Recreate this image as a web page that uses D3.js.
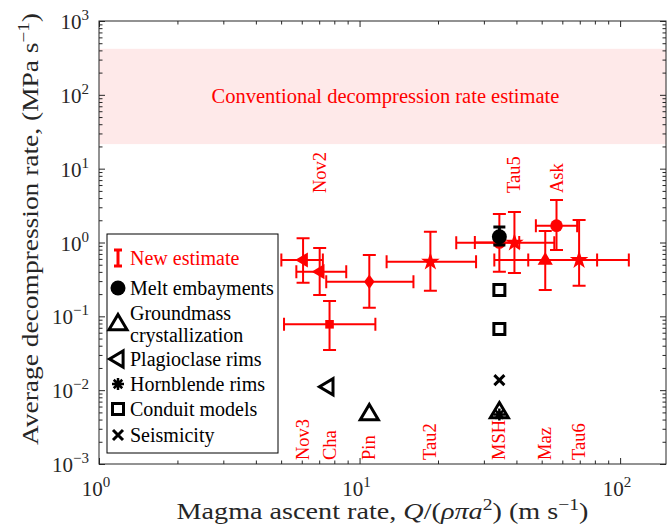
<!DOCTYPE html>
<html>
  <head>
    <meta charset="utf-8">
    <script src="https://d3js.org/d3.v7.min.js"></script>
    <style type="text/css">
      body { margin: 0; background: #fff; }
      svg { display: block; font-family: "Liberation Serif", "DejaVu Serif", serif; }
    </style>
  </head>
  <body>
    <div id="chart"></div>
    <script type="text/javascript">
      // new estimates (red, with error bars)
      var names  = ["Nov3", "Nov2", "Cha", "Pin", "Tau2", "MSH", "Tau5", "Maz", "Ask", "Tau6"],
          shapes = ["tri-left", "tri-left", "square", "diamond", "star", "circle", "star", "tri-up", "circle", "star"],
          labelAt = ["bottom", "top", "bottom", "bottom", "bottom", "bottom", "top", "bottom", "top", "bottom"],
          xVal = [6.07, 7.03, 7.67, 10.9, 18.7, 34.4, 39.3, 51.6, 57.0, 69.6],
          xLo  = [5.01, 5.72, 5.13, 7.45, 12.7, 27.7, 23.5, 44.4, 47.5, 32.9],
          xHi  = [7.23, 8.89, 11.5, 16.1, 28.0, 41.0, 55.9, 81.6, 68.4, 108],
          yVal = [0.579, 0.402, 0.078, 0.294, 0.549, 1.0, 0.993, 0.579, 1.69, 0.579],
          yLo  = [0.285, 0.194, 0.035, 0.131, 0.222, 0.402, 0.386, 0.227, 0.79, 0.260],
          yHi  = [1.14, 0.841, 0.161, 0.678, 1.40, 2.43, 2.59, 1.43, 3.77, 2.02];

      // previous estimates (black)
      var oldKind = ["melt", "conduit", "conduit", "seismic", "ground", "horn", "plag", "ground"],
          oldX    = [34.4, 34.4, 34.4, 34.4, 34.4, 34.4, 7.56, 10.9],
          oldY    = [1.197, 0.2275, 0.0673, 0.0137, 0.00505, 0.0047, 0.0111, 0.00475],
          meltLo  = 0.925, meltHi = 1.62;

      // conventional estimate band
      var bandLo = 21.5, bandHi = 420;

      var legendKinds = ["new", "melt", "ground", "plag", "horn", "conduit", "seismic"],
          legendText  = [["New estimate"], ["Melt embayments"], ["Groundmass", "crystallization"],
                         ["Plagioclase rims"], ["Hornblende rims"], ["Conduit models"], ["Seismicity"]];

      var xDecades = [0, 1, 2],
          yDecades = [-3, -2, -1, 0, 1, 2, 3];

      var width = 667, height = 529,
          plotL = 99, plotR = 666, plotT = 21, plotB = 464,
          red = "#ff0000", axisColor = "#262626";

      var x = d3.scaleLog().domain([1, 150]).range([plotL, plotR]),
          y = d3.scaleLog().domain([1e-3, 1e3]).range([plotB, plotT]);

      var svg = d3.select("#chart").append("svg")
        .attr("width", width)
        .attr("height", height);

      // band
      svg.append("rect")
        .attr("x", plotL).attr("width", plotR - plotL)
        .attr("y", y(bandHi)).attr("height", y(bandLo) - y(bandHi))
        .attr("fill", "#fee9e9");
      svg.append("text")
        .attr("x", (plotL + plotR) / 2 + 3)
        .attr("y", y(Math.sqrt(bandLo * bandHi)))
        .attr("text-anchor", "middle")
        .attr("dominant-baseline", "central")
        .attr("font-size", 20.5)
        .attr("fill", red)
        .text("Conventional decompression rate estimate");

      // axes, ticks pointing in
      function minors(lo, hi) {
        var v = [];
        for (var k = Math.floor(Math.log10(lo)); k <= Math.ceil(Math.log10(hi)); k++)
          for (var m = 2; m <= 9; m++) {
            var t = m * Math.pow(10, k);
            if (t > lo && t < hi) v.push(t);
          }
        return v;
      }
      var xMaj = xDecades.map(function(d) { return Math.pow(10, d); }),
          yMaj = yDecades.map(function(d) { return Math.pow(10, d); });

      function drawAxis(gen, scale, pos, vals, size) {
        var g = svg.append("g")
          .attr("transform", pos)
          .call(gen(scale).tickValues(vals).tickSize(size).tickFormat(""));
        g.select(".domain").remove();
        g.selectAll("line").attr("stroke", axisColor);
      }
      drawAxis(d3.axisBottom, x, "translate(0," + plotB + ")", minors(1, 150), -3.5);
      drawAxis(d3.axisBottom, x, "translate(0," + plotB + ")", xMaj, -6);
      drawAxis(d3.axisTop, x, "translate(0," + plotT + ")", minors(1, 150), -3.5);
      drawAxis(d3.axisTop, x, "translate(0," + plotT + ")", xMaj, -6);
      drawAxis(d3.axisLeft, y, "translate(" + plotL + ",0)", minors(1e-3, 1e3), -3.5);
      drawAxis(d3.axisLeft, y, "translate(" + plotL + ",0)", yMaj, -6);
      drawAxis(d3.axisRight, y, "translate(" + plotR + ",0)", minors(1e-3, 1e3), -3.5);
      drawAxis(d3.axisRight, y, "translate(" + plotR + ",0)", yMaj, -6);
      svg.append("rect")
        .attr("x", plotL).attr("y", plotT)
        .attr("width", plotR - plotL).attr("height", plotB - plotT)
        .attr("fill", "none").attr("stroke", axisColor).attr("stroke-width", 1);

      // tick labels 10^k
      function powLabel(sel, k) {
        sel.append("tspan").text("10");
        sel.append("tspan").attr("dy", -9).attr("font-size", 15)
          .text(k < 0 ? "\u2212" + (-k) : k);
      }
      xDecades.forEach(function(k) {
        var t = svg.append("text")
          .attr("x", x(Math.pow(10, k)) - 3).attr("y", 496)
          .attr("text-anchor", "middle")
          .attr("font-size", 21).attr("fill", axisColor);
        powLabel(t, k);
      });
      yDecades.forEach(function(k) {
        var t = svg.append("text")
          .attr("x", 89).attr("y", y(Math.pow(10, k)) + 8)
          .attr("text-anchor", "end")
          .attr("font-size", 21).attr("fill", axisColor);
        powLabel(t, k);
      });

      // axis titles
      var xt = svg.append("text")
        .attr("x", (plotL + plotR) / 2).attr("y", 519)
        .attr("text-anchor", "middle")
        .attr("textLength", 412).attr("lengthAdjust", "spacingAndGlyphs")
        .attr("font-size", 23).attr("fill", axisColor);
      xt.append("tspan").text("Magma ascent rate, ");
      xt.append("tspan").attr("font-style", "italic").text("Q");
      xt.append("tspan").text("/(");
      xt.append("tspan").attr("font-style", "italic").text("\u03c1\u03c0a");
      xt.append("tspan").attr("dy", -9).attr("font-size", 16).text("2");
      xt.append("tspan").attr("dy", 9).text(") (m s");
      xt.append("tspan").attr("dy", -9).attr("font-size", 16).text("\u22121");
      xt.append("tspan").attr("dy", 9).text(")");

      var yt = svg.append("text")
        .attr("transform", "translate(38,229) rotate(-90)")
        .attr("text-anchor", "middle")
        .attr("textLength", 432).attr("lengthAdjust", "spacingAndGlyphs")
        .attr("font-size", 23).attr("fill", axisColor);
      yt.append("tspan").text("Average decompression rate, (MPa s");
      yt.append("tspan").attr("dy", -9).attr("font-size", 16).text("\u22121");
      yt.append("tspan").attr("dy", 9).text(")");

      // marker shapes
      function shapePath(s, r) {
        switch (s) {
          case "circle": return d3.symbol(d3.symbolCircle, Math.PI * r * r)();
          case "square": return "M" + (-r) + "," + (-r) + "h" + 2 * r + "v" + 2 * r + "h" + (-2 * r) + "Z";
          case "diamond": return "M0," + (-r * 1.05) + "L" + r * 0.75 + ",0L0," + r * 1.05 + "L" + (-r * 0.75) + ",0Z";
          case "tri-up": return "M0," + (-r) + "L" + r * 0.95 + "," + r * 0.6 + "L" + (-r * 0.95) + "," + r * 0.6 + "Z";
          case "tri-left": return "M" + (-r) + ",0L" + r * 0.6 + "," + (-r * 0.95) + "L" + r * 0.6 + "," + r * 0.95 + "Z";
          case "star": return d3.symbol(d3.symbolStar, r * r * 1.9)();
          case "times": return "M" + (-r) + "," + (-r) + "L" + r + "," + r + "M" + (-r) + "," + r + "L" + r + "," + (-r);
          case "asterisk":
            var p = "";
            for (var a = 0; a < 4; a++) {
              var t = a * Math.PI / 4;
              p += "M" + (-r * Math.cos(t)) + "," + (-r * Math.sin(t)) + "L" + r * Math.cos(t) + "," + r * Math.sin(t);
            }
            return p;
        }
      }

      // red error bars
      var cap = 6.5;
      var eb = svg.append("g").attr("stroke", red).attr("stroke-width", 2).attr("fill", "none");
      xVal.forEach(function(d, i) {
        var cx = x(d), cy = y(yVal[i]);
        eb.append("path").attr("d",
          "M" + cx + "," + y(yLo[i]) + "V" + y(yHi[i]) +
          "M" + (cx - cap) + "," + y(yLo[i]) + "h" + 2 * cap +
          "M" + (cx - cap) + "," + y(yHi[i]) + "h" + 2 * cap +
          "M" + x(xLo[i]) + "," + cy + "H" + x(xHi[i]) +
          "M" + x(xLo[i]) + "," + (cy - cap) + "v" + 2 * cap +
          "M" + x(xHi[i]) + "," + (cy - cap) + "v" + 2 * cap);
      });
      var redSize = { "circle": 6.3, "square": 4.3, "diamond": 7, "tri-up": 8, "tri-left": 8, "star": 7.5 };
      svg.append("g").selectAll("path")
        .data(xVal)
        .enter()
          .append("path")
          .attr("transform", function(d, i) { return "translate(" + x(d) + "," + y(yVal[i]) + ")"; })
          .attr("d", function(d, i) { return shapePath(shapes[i], redSize[shapes[i]]); })
          .attr("fill", red);

      // black (previous) estimates
      function oldMark(g, kind, cx, cy) {
        var s = g.append("path").attr("transform", "translate(" + cx + "," + cy + ")")
          .attr("stroke", "#000").attr("stroke-width", 3).attr("stroke-linejoin", "miter");
        if (kind === "melt") s.attr("d", shapePath("circle", 7.5)).attr("fill", "#000").attr("stroke", "none");
        if (kind === "ground") s.attr("d", shapePath("tri-up", 9.5)).attr("fill", "none");
        if (kind === "plag") s.attr("d", shapePath("tri-left", 8.5)).attr("fill", "none");
        if (kind === "horn") s.attr("d", shapePath("asterisk", 6)).attr("fill", "none").attr("stroke-width", 2.5);
        if (kind === "conduit") s.attr("d", shapePath("square", 5.5)).attr("fill", "none");
        if (kind === "seismic") s.attr("d", shapePath("times", 5)).attr("fill", "none");
        if (kind === "new") {
          s.attr("d", "M0,-8V8M-4,-8h8M-4,8h8").attr("stroke", red).attr("fill", "none");
        }
      }
      var ob = svg.append("g");
      ob.append("path")
        .attr("d", "M" + x(oldX[0]) + "," + y(meltLo) + "V" + y(meltHi) +
          "M" + (x(oldX[0]) - 6) + "," + y(meltLo) + "h12" +
          "M" + (x(oldX[0]) - 6) + "," + y(meltHi) + "h12")
        .attr("stroke", "#000").attr("stroke-width", 3);
      oldKind.forEach(function(k, i) { oldMark(ob, k, x(oldX[i]), y(oldY[i])); });

      // red site labels
      svg.append("g").selectAll("text")
        .data(names)
        .enter()
          .append("text")
          .attr("transform", function(d, i) {
            return "translate(" + x(xVal[i]) + "," + (labelAt[i] === "top" ? 193 : 460) + ") rotate(-90)";
          })
          .attr("dominant-baseline", "central")
          .attr("font-size", 18.5)
          .attr("fill", red)
          .text(function(d) { return d; });

      // legend
      var lg = svg.append("g");
      lg.append("rect")
        .attr("x", 107).attr("y", 234).attr("width", 171).attr("height", 219)
        .attr("fill", "#fff").attr("stroke", "#000").attr("stroke-width", 1);
      var rowY = [258, 288, 324, 359, 384, 409, 435];
      legendKinds.forEach(function(k, i) {
        oldMark(lg, k, 118, rowY[i]);
        var lines = legendText[i];
        lines.forEach(function(line, j) {
          lg.append("text")
            .attr("x", 130).attr("y", rowY[i] + (lines.length > 1 ? (j === 0 ? -11 : 11) : 0))
            .attr("dominant-baseline", "central")
            .attr("font-size", 20)
            .attr("fill", k === "new" ? red : "#000")
            .text(line);
        });
      });
    </script>
  </body>
</html>
